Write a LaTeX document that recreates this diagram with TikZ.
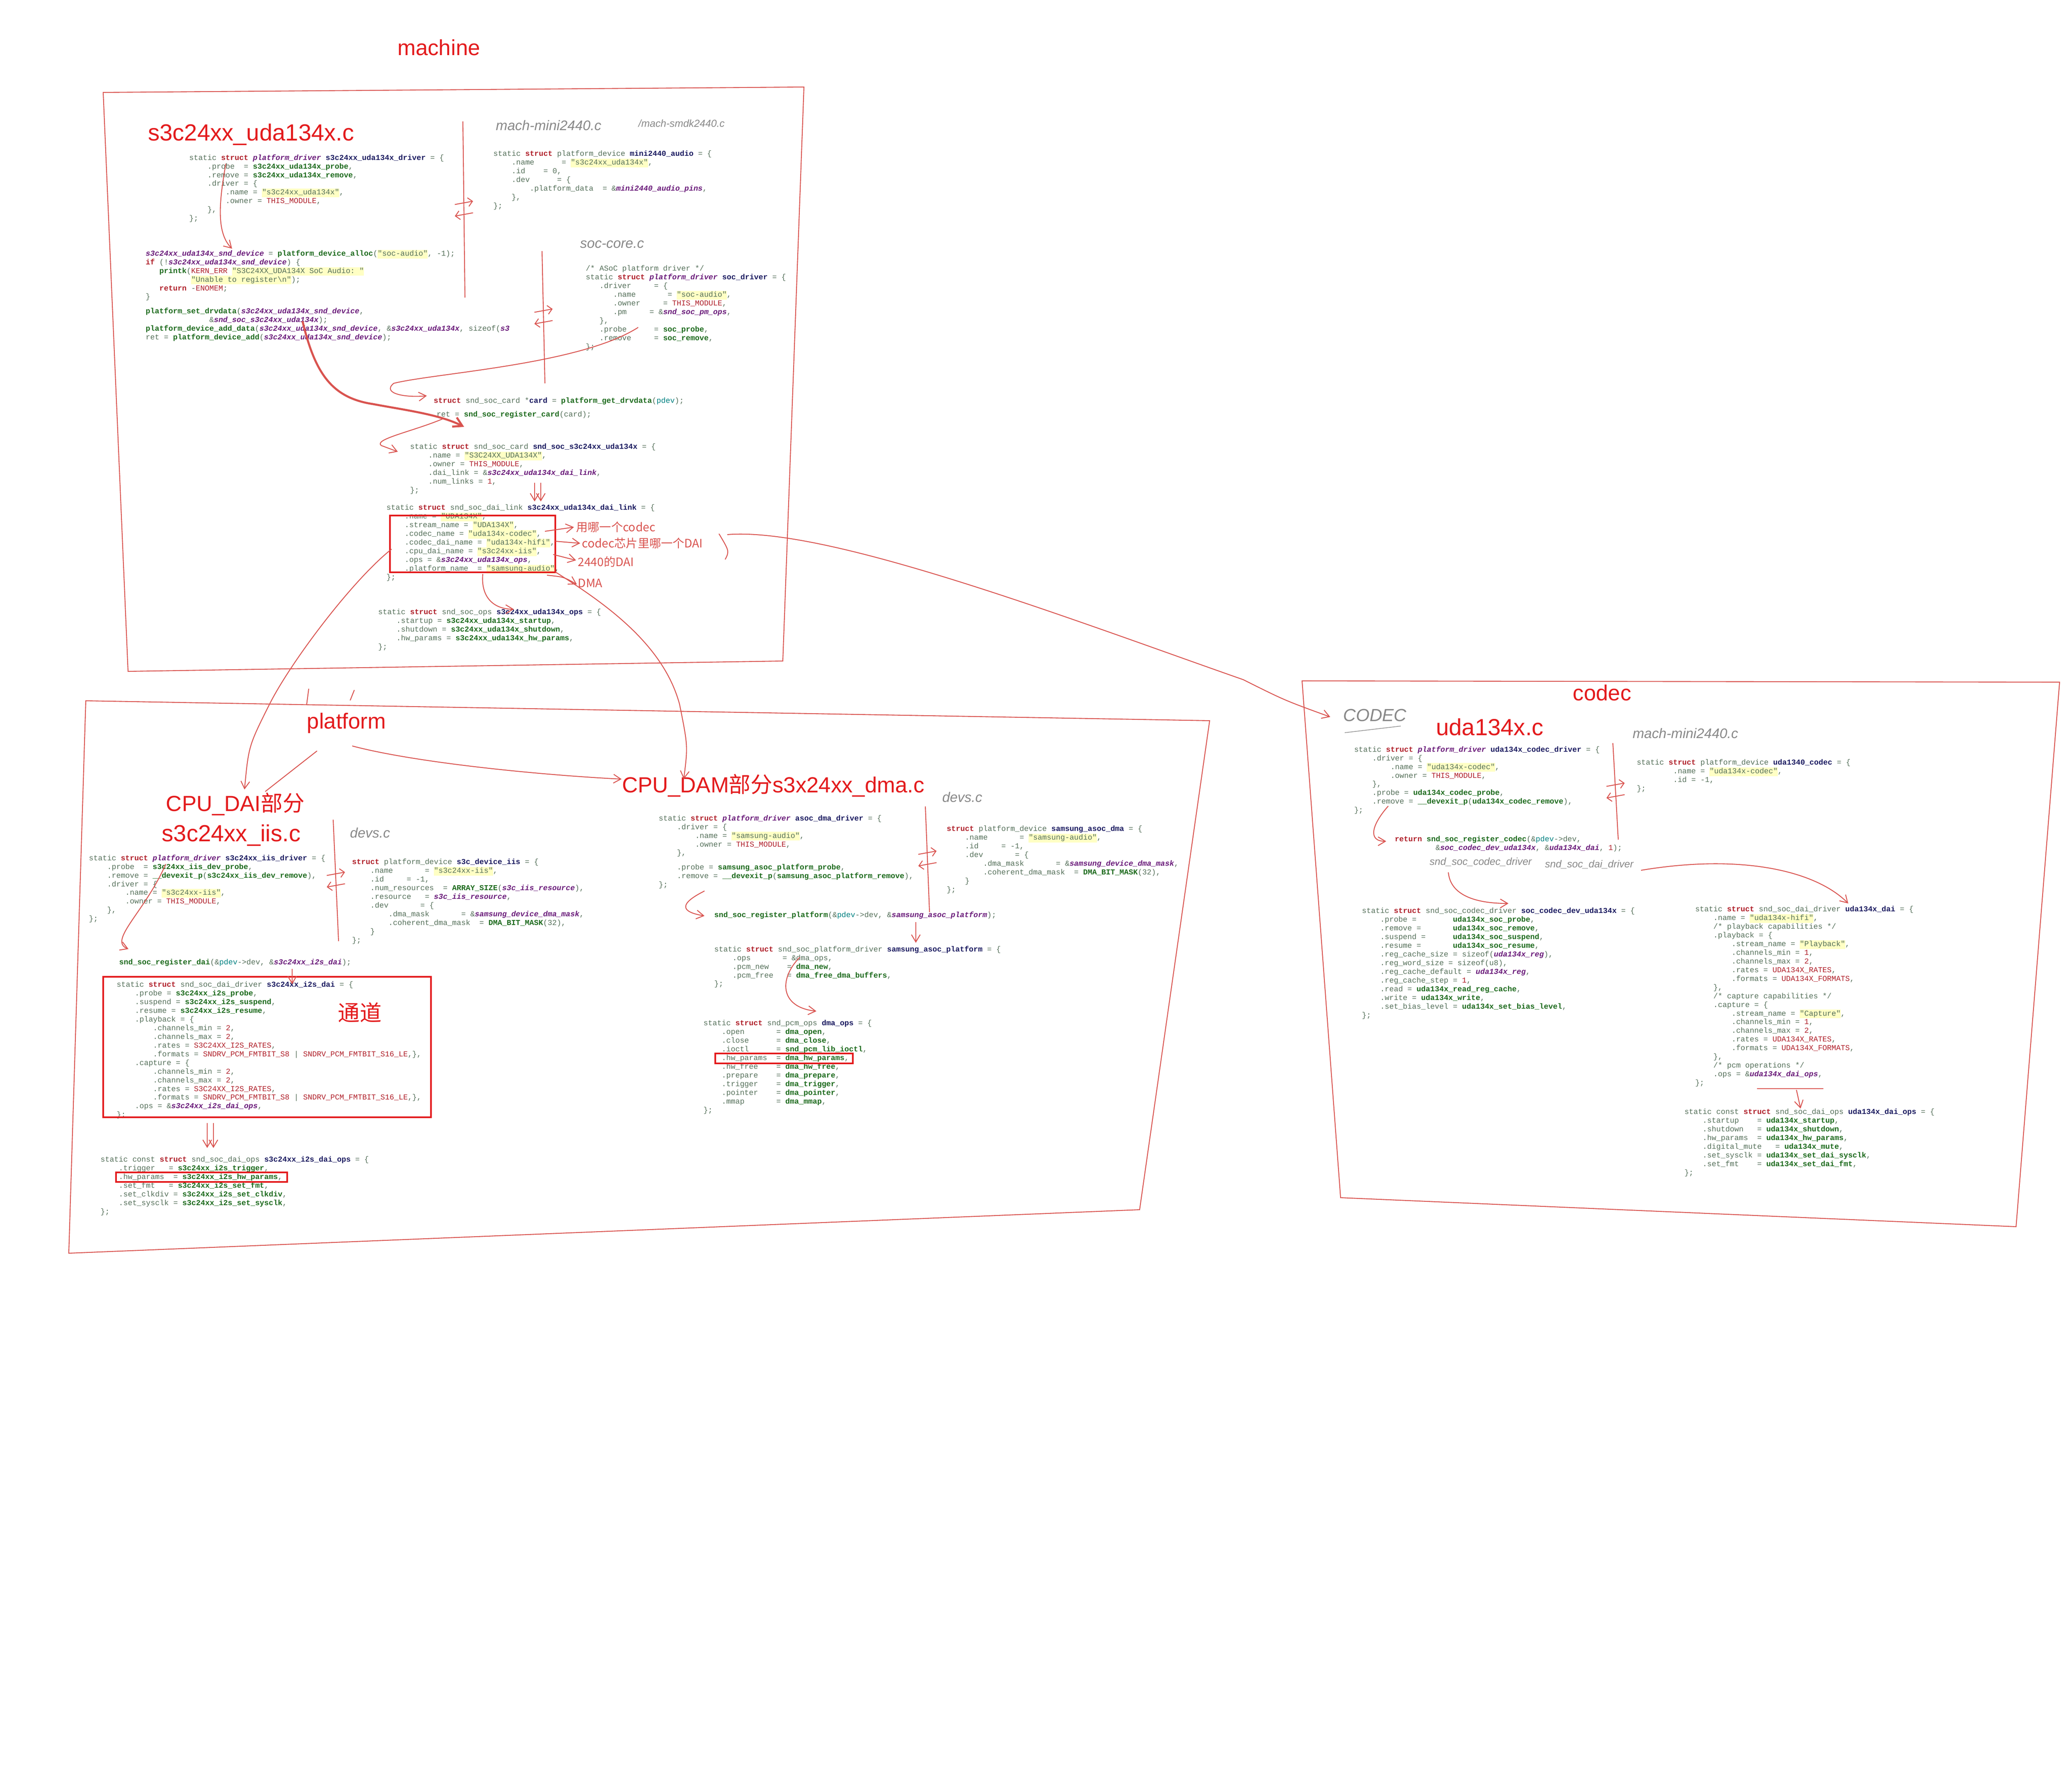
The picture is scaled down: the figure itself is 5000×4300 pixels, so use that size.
\documentclass[tikz,border=0pt]{standalone}
\usepackage{fontspec}
\setmainfont{Liberation Sans}
\setmonofont{Liberation Mono}
\newfontfamily\cjk{Noto Sans CJK SC}
\usetikzlibrary{arrows.meta}
\definecolor{cg}{HTML}{55705A}
\definecolor{kw}{HTML}{B0202A}
\definecolor{idg}{HTML}{1C6A1C}
\definecolor{nv}{HTML}{1A1A60}
\definecolor{pu}{HTML}{6A1B7A}
\definecolor{sbg}{HTML}{FFFFC4}
\definecolor{rd}{HTML}{E31A1C}
\definecolor{pen}{HTML}{D9534F}
\definecolor{hand}{HTML}{888888}
\newcommand\K[1]{\textcolor{kw}{\bfseries #1}}
\newcommand\G[1]{\textcolor{idg}{\bfseries #1}}
\newcommand\N[1]{\textcolor{nv}{\bfseries #1}}
\newcommand\Pit[1]{\textcolor{pu}{\bfseries\itshape #1}}
\newcommand\Ss[1]{{\setlength\fboxsep{0pt}\colorbox{sbg}{\strut #1}}}
\newcommand\ii[1]{\hspace*{#1em}}
\newcommand\ST{static \K{struct} }
\tikzset{
 code/.style={anchor=north west,align=left,inner sep=0pt,text=cg,font=\fontsize{5.2}{5.95}\selectfont\ttfamily},
 ttl/.style={text=rd,inner sep=0pt,font=\fontsize{15}{16}\selectfont},
 hw/.style={text=hand,inner sep=0pt,font=\fontsize{9.5}{11}\selectfont\itshape\rmfamily},
 hws/.style={text=hand,inner sep=0pt,font=\fontsize{7}{8}\selectfont\itshape\rmfamily},
 note/.style={text=pen,inner sep=0pt,anchor=west,font=\fontsize{8}{9}\selectfont\cjk},
 pn/.style={draw=pen,line width=0.6pt},
 pa/.style={pn,-{Straight Barb[length=5pt,width=6pt]}},
 rbox/.style={draw=rd,line width=1pt}
}
\begin{document}
\begin{tikzpicture}[x=0.01cm,y=-0.01cm]
\useasboundingbox[fill=white] (0,0) rectangle (5000,4300);
% ---------- frames
\draw[pn] (249,223) -- (1940,210) -- (1889,1595) -- (309,1620) -- cycle;
\draw[pn] (207,1691) -- (2919,1739) -- (2750,2919) -- (166,3024) -- cycle;
\draw[pn] (3142,1643) -- (4970,1646) -- (4865,2960) -- (3235,2890) -- cycle;
% ---------- titles
\node[ttl] (tmach) at (1059,115) {machine};
\node[ttl,font=\fontsize{16}{17}\selectfont] (tuda) at (606,325) {s3c24xx\_uda134x.c};
\node[ttl] (tplat) at (836,1745) {platform};
\node[ttl] (tcpu) at (568,1940) {CPU\_DAI{\cjk 部分}};
\node[ttl,font=\fontsize{16}{17}\selectfont] (tiis) at (558,2016) {s3c24xx\_iis.c};
\node[ttl] (tdma) at (1866,1895) {CPU\_DAM{\cjk 部分}s3x24xx\_dma.c};
\node[ttl] (tcodec) at (3866,1672) {codec};
\node[ttl,font=\fontsize{16}{17}\selectfont] (tuc) at (3595,1754) {uda134x.c};
\node[text=rd,font=\fontsize{15}{16}\selectfont\cjk] (td) at (868,2443) {通道};
% ---------- handwritten grey labels
\node[hw,anchor=west] (h1) at (1196,303) {mach-mini2440.c};
\node[hws,anchor=west] (h2) at (1540,298) {/mach-smdk2440.c};
\node[hw] (h3) at (1477,590) {soc-core.c};
\node[hw] (h4) at (893,2010) {devs.c};
\node[hw] (h5) at (2322,1924) {devs.c};
\node[hw,font=\fontsize{12}{13}\selectfont\itshape\rmfamily] (h6) at (3318,1726) {CODEC};
\draw[hand] (3245,1768) -- (3380,1752);
\node[hw] (h7) at (4067,1770) {mach-mini2440.c};
\node[hws] (h8) at (3573,2080) {snd\_soc\_codec\_driver};
\node[hws] (h9) at (3835,2086) {snd\_soc\_dai\_driver};
% ---------- machine code
\node[code] (a) at (456,372) {\ST\Pit{platform\_driver} \N{s3c24xx\_uda134x\_driver} = \{\\
\ii{2.4}.probe \ = \G{s3c24xx\_uda134x\_probe},\\
\ii{2.4}.remove = \G{s3c24xx\_uda134x\_remove},\\
\ii{2.4}.driver = \{\\
\ii{4.8}.name = \Ss{"s3c24xx\_uda134x"},\\
\ii{4.8}.owner = \textcolor{kw}{THIS\_MODULE},\\
\ii{2.4}\},\\
\};};
\node[code] (b) at (1190,363) {\ST platform\_device \N{mini2440\_audio} = \{\\
\ii{2.4}.name \ \ \ \ \ = \Ss{"s3c24xx\_uda134x"},\\
\ii{2.4}.id \ \ \ = 0,\\
\ii{2.4}.dev \ \ \ \ \ = \{\\
\ii{4.8}.platform\_data \ = \&\Pit{mini2440\_audio\_pins},\\
\ii{2.4}\},\\
\};};
\node[code] (c) at (351,602) {\Pit{s3c24xx\_uda134x\_snd\_device} = \G{platform\_device\_alloc}(\Ss{"soc-audio"}, -1);\\
\K{if} (!\Pit{s3c24xx\_uda134x\_snd\_device}) \{\\
\ii{1.8}\G{printk}(\textcolor{kw}{KERN\_ERR} \Ss{"S3C24XX\_UDA134X SoC Audio: "}\\
\ii{6}\Ss{"Unable to register\textbackslash n"});\\
\ii{1.8}\K{return} -\textcolor{kw}{ENOMEM};\\
\}\\[4pt]
\G{platform\_set\_drvdata}(\Pit{s3c24xx\_uda134x\_snd\_device},\\
\ii{8.4}\&\Pit{snd\_soc\_s3c24xx\_uda134x});\\
\G{platform\_device\_add\_data}(\Pit{s3c24xx\_uda134x\_snd\_device}, \&\Pit{s3c24xx\_uda134x}, sizeof(\Pit{s3}\\
ret = \G{platform\_device\_add}(\Pit{s3c24xx\_uda134x\_snd\_device});};
\node[code] (d) at (1413,640) {/* ASoC platform driver */\\
\ST\Pit{platform\_driver} \N{soc\_driver} = \{\\
\ii{1.8}.driver \ \ \ \ = \{\\
\ii{3.6}.name \ \ \ \ \ \ = \Ss{"soc-audio"},\\
\ii{3.6}.owner \ \ \ \ = \textcolor{kw}{THIS\_MODULE},\\
\ii{3.6}.pm \ \ \ \ = \&\Pit{snd\_soc\_pm\_ops},\\
\ii{1.8}\},\\
\ii{1.8}.probe \ \ \ \ \ = \G{soc\_probe},\\
\ii{1.8}.remove \ \ \ \ = \G{soc\_remove},\\
\};};
\node[code] (e) at (1046,958) {\K{struct} snd\_soc\_card *\N{card} = \G{platform\_get\_drvdata}(\textcolor{teal}{pdev});};
\node[code] (e2) at (1053,992) {ret = \G{snd\_soc\_register\_card}(card);};
\node[code] (f) at (989,1070) {\ST snd\_soc\_card \N{snd\_soc\_s3c24xx\_uda134x} = \{\\
\ii{2.4}.name = \Ss{"S3C24XX\_UDA134X"},\\
\ii{2.4}.owner = \textcolor{kw}{THIS\_MODULE},\\
\ii{2.4}.dai\_link = \&\Pit{s3c24xx\_uda134x\_dai\_link},\\
\ii{2.4}.num\_links = \textcolor{kw}{1},\\
\};};
\node[code] (g) at (932,1217) {\ST snd\_soc\_dai\_link \N{s3c24xx\_uda134x\_dai\_link} = \{\\
\ii{2.4}.name = \Ss{"UDA134X"},\\
\ii{2.4}.stream\_name = \Ss{"UDA134X"},\\
\ii{2.4}.codec\_name = \Ss{"uda134x-codec"},\\
\ii{2.4}.codec\_dai\_name = \Ss{"uda134x-hifi"},\\
\ii{2.4}.cpu\_dai\_name = \Ss{"s3c24xx-iis"},\\
\ii{2.4}.ops = \&\Pit{s3c24xx\_uda134x\_ops},\\
\ii{2.4}.platform\_name \ = \Ss{"samsung-audio"},\\
\};};
\draw[rbox] (941,1244) rectangle (1340,1381);
\node[code] (h) at (912,1469) {\ST snd\_soc\_ops \N{s3c24xx\_uda134x\_ops} = \{\\
\ii{2.4}.startup = \G{s3c24xx\_uda134x\_startup},\\
\ii{2.4}.shutdown = \G{s3c24xx\_uda134x\_shutdown},\\
\ii{2.4}.hw\_params = \G{s3c24xx\_uda134x\_hw\_params},\\
\};};
\node[note] (n1) at (1390,1272) {用哪一个codec};
\node[note] (n2) at (1404,1311) {codec芯片里哪一个DAI};
\node[note] (n3) at (1394,1356) {2440的DAI};
\node[note] (n4) at (1394,1407) {DMA};
% ---------- platform code
\node[code] (i) at (214,2062) {\ST\Pit{platform\_driver} \N{s3c24xx\_iis\_driver} = \{\\
\ii{2.4}.probe \ = \G{s3c24xx\_iis\_dev\_probe},\\
\ii{2.4}.remove = \G{\_\_devexit\_p}(\G{s3c24xx\_iis\_dev\_remove}),\\
\ii{2.4}.driver = \{\\
\ii{4.8}.name = \Ss{"s3c24xx-iis"},\\
\ii{4.8}.owner = \textcolor{kw}{THIS\_MODULE},\\
\ii{2.4}\},\\
\};};
\node[code] (j) at (849,2072) {\K{struct} platform\_device \N{s3c\_device\_iis} = \{\\
\ii{2.4}.name \ \ \ \ \ \ = \Ss{"s3c24xx-iis"},\\
\ii{2.4}.id \ \ \ \ = -1,\\
\ii{2.4}.num\_resources \ = \G{ARRAY\_SIZE}(\Pit{s3c\_iis\_resource}),\\
\ii{2.4}.resource \ \ = \Pit{s3c\_iis\_resource},\\
\ii{2.4}.dev \ \ \ \ \ \ = \{\\
\ii{4.8}.dma\_mask \ \ \ \ \ \ = \&\Pit{samsung\_device\_dma\_mask},\\
\ii{4.8}.coherent\_dma\_mask \ = \G{DMA\_BIT\_MASK}(32),\\
\ii{2.4}\}\\
\};};
\node[code] (k) at (287,2314) {\G{snd\_soc\_register\_dai}(\&\textcolor{teal}{pdev}->dev, \&\Pit{s3c24xx\_i2s\_dai});};
\node[code] (l) at (281,2368) {\ST snd\_soc\_dai\_driver \N{s3c24xx\_i2s\_dai} = \{\\
\ii{2.4}.probe = \G{s3c24xx\_i2s\_probe},\\
\ii{2.4}.suspend = \G{s3c24xx\_i2s\_suspend},\\
\ii{2.4}.resume = \G{s3c24xx\_i2s\_resume},\\
\ii{2.4}.playback = \{\\
\ii{4.8}.channels\_min = \textcolor{kw}{2},\\
\ii{4.8}.channels\_max = \textcolor{kw}{2},\\
\ii{4.8}.rates = \textcolor{kw}{S3C24XX\_I2S\_RATES},\\
\ii{4.8}.formats = \textcolor{kw}{SNDRV\_PCM\_FMTBIT\_S8} | \textcolor{kw}{SNDRV\_PCM\_FMTBIT\_S16\_LE},\},\\
\ii{2.4}.capture = \{\\
\ii{4.8}.channels\_min = \textcolor{kw}{2},\\
\ii{4.8}.channels\_max = \textcolor{kw}{2},\\
\ii{4.8}.rates = \textcolor{kw}{S3C24XX\_I2S\_RATES},\\
\ii{4.8}.formats = \textcolor{kw}{SNDRV\_PCM\_FMTBIT\_S8} | \textcolor{kw}{SNDRV\_PCM\_FMTBIT\_S16\_LE},\},\\
\ii{2.4}.ops = \&\Pit{s3c24xx\_i2s\_dai\_ops},\\
\};};
\draw[rbox] (249,2357) rectangle (1040,2696);
\node[code] (m) at (242,2790) {static const \K{struct} snd\_soc\_dai\_ops \N{s3c24xx\_i2s\_dai\_ops} = \{\\
\ii{2.4}.trigger \ \ = \G{s3c24xx\_i2s\_trigger},\\
\ii{2.4}.hw\_params \ = \G{s3c24xx\_i2s\_hw\_params},\\
\ii{2.4}.set\_fmt \ \ = \G{s3c24xx\_i2s\_set\_fmt},\\
\ii{2.4}.set\_clkdiv = \G{s3c24xx\_i2s\_set\_clkdiv},\\
\ii{2.4}.set\_sysclk = \G{s3c24xx\_i2s\_set\_sysclk},\\
\};};
\draw[rbox] (280,2829) rectangle (693,2852);
\node[code] (nn) at (1589,1966) {\ST\Pit{platform\_driver} \N{asoc\_dma\_driver} = \{\\
\ii{2.4}.driver = \{\\
\ii{4.8}.name = \Ss{"samsung-audio"},\\
\ii{4.8}.owner = \textcolor{kw}{THIS\_MODULE},\\
\ii{2.4}\},\\[4pt]
\ii{2.4}.probe = \G{samsung\_asoc\_platform\_probe},\\
\ii{2.4}.remove = \G{\_\_devexit\_p}(\G{samsung\_asoc\_platform\_remove}),\\
\};};
\node[code] (o) at (2284,1992) {\K{struct} platform\_device \N{samsung\_asoc\_dma} = \{\\
\ii{2.4}.name \ \ \ \ \ \ = \Ss{"samsung-audio"},\\
\ii{2.4}.id \ \ \ \ = -1,\\
\ii{2.4}.dev \ \ \ \ \ \ = \{\\
\ii{4.8}.dma\_mask \ \ \ \ \ \ = \&\Pit{samsung\_device\_dma\_mask},\\
\ii{4.8}.coherent\_dma\_mask \ = \G{DMA\_BIT\_MASK}(32),\\
\ii{2.4}\}\\
\};};
\node[code] (p) at (1723,2199) {\G{snd\_soc\_register\_platform}(\&\textcolor{teal}{pdev}->dev, \&\Pit{samsung\_asoc\_platform});};
\node[code] (q) at (1723,2282) {\ST snd\_soc\_platform\_driver \N{samsung\_asoc\_platform} = \{\\
\ii{2.4}.ops \ \ \ \ \ \ = \&dma\_ops,\\
\ii{2.4}.pcm\_new \ \ \ = \G{dma\_new},\\
\ii{2.4}.pcm\_free \ \ = \G{dma\_free\_dma\_buffers},\\
\};};
\node[code] (r) at (1697,2461) {\ST snd\_pcm\_ops \N{dma\_ops} = \{\\
\ii{2.4}.open \ \ \ \ \ \ = \G{dma\_open},\\
\ii{2.4}.close \ \ \ \ \ = \G{dma\_close},\\
\ii{2.4}.ioctl \ \ \ \ \ = \G{snd\_pcm\_lib\_ioctl},\\
\ii{2.4}.hw\_params \ = \G{dma\_hw\_params},\\
\ii{2.4}.hw\_free \ \ \ = \G{dma\_hw\_free},\\
\ii{2.4}.prepare \ \ \ = \G{dma\_prepare},\\
\ii{2.4}.trigger \ \ \ = \G{dma\_trigger},\\
\ii{2.4}.pointer \ \ \ = \G{dma\_pointer},\\
\ii{2.4}.mmap \ \ \ \ \ \ = \G{dma\_mmap},\\
\};};
\draw[rbox] (1726,2542) rectangle (2058,2566);
% ---------- codec code
\node[code] (s) at (3267,1800) {\ST\Pit{platform\_driver} \N{uda134x\_codec\_driver} = \{\\
\ii{2.4}.driver = \{\\
\ii{4.8}.name = \Ss{"uda134x-codec"},\\
\ii{4.8}.owner = \textcolor{kw}{THIS\_MODULE},\\
\ii{2.4}\},\\
\ii{2.4}.probe = \G{uda134x\_codec\_probe},\\
\ii{2.4}.remove = \G{\_\_devexit\_p}(\G{uda134x\_codec\_remove}),\\
\};};
\node[code] (t) at (3949,1832) {\ST platform\_device \N{uda1340\_codec} = \{\\
\ii{4.8}.name = \Ss{"uda134x-codec"},\\
\ii{4.8}.id = -1,\\
\};};
\node[code] (u) at (3365,2017) {\K{return} \G{snd\_soc\_register\_codec}(\&\textcolor{teal}{pdev}->dev,\\
\ii{5.4}\&\Pit{soc\_codec\_dev\_uda134x}, \&\Pit{uda134x\_dai}, \textcolor{kw}{1});};
\node[code] (v) at (3286,2190) {\ST snd\_soc\_codec\_driver \N{soc\_codec\_dev\_uda134x} = \{\\
\ii{2.4}.probe = \ \ \ \ \ \ \ \G{uda134x\_soc\_probe},\\
\ii{2.4}.remove = \ \ \ \ \ \ \G{uda134x\_soc\_remove},\\
\ii{2.4}.suspend = \ \ \ \ \ \G{uda134x\_soc\_suspend},\\
\ii{2.4}.resume = \ \ \ \ \ \ \G{uda134x\_soc\_resume},\\
\ii{2.4}.reg\_cache\_size = sizeof(\Pit{uda134x\_reg}),\\
\ii{2.4}.reg\_word\_size = sizeof(u8),\\
\ii{2.4}.reg\_cache\_default = \Pit{uda134x\_reg},\\
\ii{2.4}.reg\_cache\_step = \textcolor{kw}{1},\\
\ii{2.4}.read = \G{uda134x\_read\_reg\_cache},\\
\ii{2.4}.write = \G{uda134x\_write},\\
\ii{2.4}.set\_bias\_level = \G{uda134x\_set\_bias\_level},\\
\};};
\node[code] (w) at (4090,2186) {\ST snd\_soc\_dai\_driver \N{uda134x\_dai} = \{\\
\ii{2.4}.name = \Ss{"uda134x-hifi"},\\
\ii{2.4}/* playback capabilities */\\
\ii{2.4}.playback = \{\\
\ii{4.8}.stream\_name = \Ss{"Playback"},\\
\ii{4.8}.channels\_min = \textcolor{kw}{1},\\
\ii{4.8}.channels\_max = \textcolor{kw}{2},\\
\ii{4.8}.rates = \textcolor{kw}{UDA134X\_RATES},\\
\ii{4.8}.formats = \textcolor{kw}{UDA134X\_FORMATS},\\
\ii{2.4}\},\\
\ii{2.4}/* capture capabilities */\\
\ii{2.4}.capture = \{\\
\ii{4.8}.stream\_name = \Ss{"Capture"},\\
\ii{4.8}.channels\_min = \textcolor{kw}{1},\\
\ii{4.8}.channels\_max = \textcolor{kw}{2},\\
\ii{4.8}.rates = \textcolor{kw}{UDA134X\_RATES},\\
\ii{4.8}.formats = \textcolor{kw}{UDA134X\_FORMATS},\\
\ii{2.4}\},\\
\ii{2.4}/* pcm operations */\\
\ii{2.4}.ops = \&\Pit{uda134x\_dai\_ops},\\
\};};
\node[code] (x) at (4064,2675) {static const \K{struct} snd\_soc\_dai\_ops \N{uda134x\_dai\_ops} = \{\\
\ii{2.4}.startup \ \ \ = \G{uda134x\_startup},\\
\ii{2.4}.shutdown \ \ = \G{uda134x\_shutdown},\\
\ii{2.4}.hw\_params \ = \G{uda134x\_hw\_params},\\
\ii{2.4}.digital\_mute \ \ = \G{uda134x\_mute},\\
\ii{2.4}.set\_sysclk = \G{uda134x\_set\_dai\_sysclk},\\
\ii{2.4}.set\_fmt \ \ \ = \G{uda134x\_set\_dai\_fmt},\\
\};};
% ---------- dividers with <=> marks
\foreach \xa/\ya/\xb/\yb in {1117/293/1122/718, 1308/606/1315/925, 804/1978/817/2271, 2233/1946/2243/2201, 3892/1793/3905/2026}{
  \draw[pn] (\xa,\ya) -- (\xb,\yb);
  \draw[pn,-{Straight Barb[length=3pt]}] ({(\xa+\xb)/2-22},{(\ya+\yb)/2-12}) -- ({(\xa+\xb)/2+22},{(\ya+\yb)/2-20});
  \draw[pn,-{Straight Barb[length=3pt]}] ({(\xa+\xb)/2+22},{(\ya+\yb)/2+8}) -- ({(\xa+\xb)/2-22},{(\ya+\yb)/2+16});
}
% ---------- machine connectors
\draw[pa] (545,395) .. controls (530,480) and (520,560) .. (560,600);
\draw[pen,line width=1.4pt,-{Straight Barb[length=6pt,width=7pt]}] (730,775) .. controls (760,900) and (800,960) .. (900,975) .. controls (980,990) and (1060,1000) .. (1120,1030);
\draw[pa] (1540,790) .. controls (1400,880) and (1050,900) .. (950,925) .. controls (920,950) and (980,960) .. (1030,955);
\draw[pa] (1070,1010) .. controls (1000,1040) and (900,1060) .. (920,1075) -- (960,1090);
\draw[pa] (1290,1165) -- (1290,1210);
\draw[pa] (1305,1165) -- (1305,1210);
\draw[pa] (1315,1282) -- (1385,1272);
\draw[pa] (1340,1306) -- (1400,1311);
\draw[pa] (1335,1338) -- (1390,1352);
\draw[pa] (1320,1388) .. controls (1360,1392) .. (1392,1410);
\draw[pa] (1165,1385) .. controls (1160,1440) and (1190,1470) .. (1240,1470);
\draw[pn] (1735,1288) .. controls (1760,1330) .. (1750,1350);
\draw[pa] (1755,1290) .. controls (2000,1270) and (2600,1500) .. (3000,1640) .. controls (3100,1690) .. (3210,1730);
\draw[pa] (945,1325) .. controls (850,1400) and (700,1600) .. (650,1700) .. controls (600,1800) .. (590,1905);
\draw[pa] (1340,1380) .. controls (1450,1450) and (1600,1550) .. (1640,1700) .. controls (1660,1800) .. (1650,1880);
% ---------- platform connectors
\draw[pn] (765,1812) -- (640,1910);
\draw[pa] (850,1800) .. controls (1000,1840) and (1300,1870) .. (1500,1880);
\draw[pn] (745,1662) -- (740,1700);
\draw[pn] (855,1665) -- (845,1690);
\draw[pa] (400,2085) .. controls (350,2200) and (260,2270) .. (310,2290);
\draw[pa] (705,2338) -- (705,2375);
\draw[pa] (500,2710) -- (500,2770);
\draw[pa] (515,2710) -- (515,2770);
\draw[pa] (1700,2150) .. controls (1640,2180) and (1640,2200) .. (1700,2210);
\draw[pa] (2210,2225) -- (2210,2275);
\draw[pa] (1930,2310) .. controls (1880,2360) and (1880,2430) .. (1970,2440);
% ---------- codec connectors
\draw[pa] (3350,1945) .. controls (3310,1990) and (3300,2030) .. (3345,2030);
\draw[pa] (3495,2105) .. controls (3500,2160) and (3560,2180) .. (3640,2180);
\draw[pa] (3960,2100) .. controls (4200,2060) and (4380,2100) .. (4460,2180);
\draw[pa] (4335,2630) -- (4345,2675);
\draw[pn] (4240,2627) -- (4400,2627);
\end{tikzpicture}
\end{document}
